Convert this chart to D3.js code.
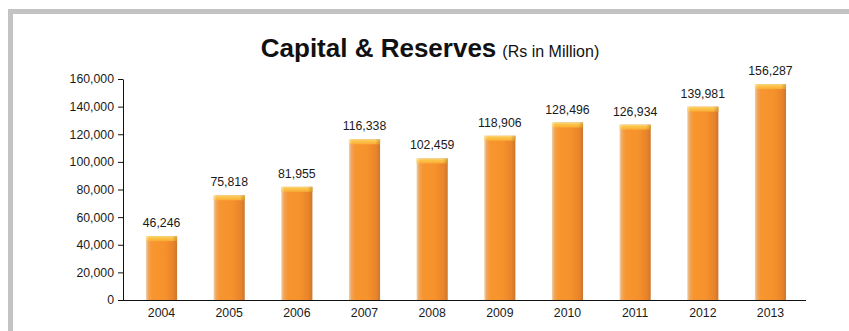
<!DOCTYPE html>
<html>
<head>
<meta charset="utf-8">
<script src="https://cdn.jsdelivr.net/npm/d3@7"></script>
<style>
  html, body { margin: 0; padding: 0; background: #fff; }
  svg { display: block; font-family: "Liberation Sans", Arial, Helvetica, sans-serif; }
</style>
</head>
<body>
<svg id="chart" width="849" height="331"></svg>
<script>
// Capital & Reserves, Rs in Million
const years = ["2004", "2005", "2006", "2007", "2008", "2009", "2010", "2011", "2012", "2013"];
const capitalReserves = [46246, 75818, 81955, 116338, 102459, 118906, 128496, 126934, 139981, 156287];
const yTicks = [0, 20000, 40000, 60000, 80000, 100000, 120000, 140000, 160000];

const svg = d3.select("#chart");
const fmt = d3.format(",");

// frame: grey band along the top and left
svg.append("rect").attr("x", 8).attr("y", 9).attr("width", 841).attr("height", 5).attr("fill", "#c3c3c3");
svg.append("rect").attr("x", 8).attr("y", 9).attr("width", 5).attr("height", 322).attr("fill", "#c3c3c3");

// title
const title = svg.append("text")
  .attr("x", 430).attr("y", 57)
  .attr("text-anchor", "middle")
  .attr("fill", "#111");
title.append("tspan").attr("font-size", 26).attr("font-weight", "bold").text("Capital & Reserves");
title.append("tspan").attr("font-size", 16).attr("dx", 6).text("(Rs in Million)");

// scales
const axisLeft = 123, axisRight = 806, yBase = 300, yTop = 79;
const x = d3.scaleBand()
  .domain(years)
  .range([127.7, 804.3])
  .paddingInner(0.54)
  .paddingOuter(0.27);
const y = d3.scaleLinear().domain([0, 160000]).range([yBase, yTop]);

// bar gradients
const defs = svg.append("defs");
const body = defs.append("linearGradient").attr("id", "barBody").attr("x1", 0).attr("x2", 1).attr("y1", 0).attr("y2", 0);
[[0, "#ecd2ad"], [0.08, "#f2a55a"], [0.2, "#f7952f"], [0.6, "#f6922c"], [0.88, "#e8832a"], [1, "#c9772f"]]
  .forEach(([o, c]) => body.append("stop").attr("offset", o).attr("stop-color", c));
const cap = defs.append("linearGradient").attr("id", "barCap").attr("x1", 0).attr("x2", 0).attr("y1", 0).attr("y2", 1);
[[0, "#f7d98a"], [0.35, "#fcc548"], [1, "#f9ac38"]]
  .forEach(([o, c]) => cap.append("stop").attr("offset", o).attr("stop-color", c));
const capSide = defs.append("linearGradient").attr("id", "barCapSide").attr("x1", 0).attr("x2", 1).attr("y1", 0).attr("y2", 0);
[[0, "rgba(255,255,255,0.45)"], [0.1, "rgba(255,255,255,0)"], [0.85, "rgba(0,0,0,0)"], [1, "rgba(120,60,0,0.25)"]]
  .forEach(([o, c]) => capSide.append("stop").attr("offset", o).attr("stop-color", c));

const data = years.map((yr, i) => ({ year: yr, value: capitalReserves[i] }));

const bars = svg.append("g").selectAll("g").data(data).join("g");
bars.append("rect")
  .attr("x", d => x(d.year))
  .attr("y", d => y(d.value))
  .attr("width", x.bandwidth())
  .attr("height", d => yBase - y(d.value))
  .attr("fill", "url(#barBody)");
bars.append("rect")
  .attr("x", d => x(d.year))
  .attr("y", d => y(d.value))
  .attr("width", x.bandwidth())
  .attr("height", 5)
  .attr("fill", "url(#barCap)");
bars.append("rect")
  .attr("x", d => x(d.year))
  .attr("y", d => y(d.value))
  .attr("width", x.bandwidth())
  .attr("height", 5)
  .attr("fill", "url(#barCapSide)");

// value labels
bars.append("text")
  .attr("x", d => x(d.year) + x.bandwidth() / 2)
  .attr("y", d => y(d.value) - 9)
  .attr("text-anchor", "middle")
  .attr("font-size", 12.3)
  .attr("fill", "#1a1a1a")
  .text(d => fmt(d.value));

// y axis
const yAxis = svg.append("g")
  .attr("transform", `translate(${axisLeft},0)`)
  .call(d3.axisLeft(y).tickValues(yTicks).tickFormat(fmt).tickSize(5).tickPadding(4).tickSizeOuter(0));
yAxis.select(".domain").attr("stroke", "#111");
yAxis.selectAll(".tick line").attr("stroke", "#111");
yAxis.selectAll(".tick text").attr("font-size", 12.3).attr("fill", "#1a1a1a")
  .attr("font-family", "'Liberation Sans', Arial, sans-serif");

// x axis
const xAxis = svg.append("g")
  .attr("transform", `translate(0,${yBase})`)
  .call(d3.axisBottom(x).tickSize(0).tickPadding(8));
xAxis.select(".domain").attr("d", `M${axisLeft},0.5H${axisRight}`).attr("stroke", "#111");
xAxis.selectAll(".tick text").attr("font-size", 12.3).attr("fill", "#1a1a1a")
  .attr("font-family", "'Liberation Sans', Arial, sans-serif");
</script>
</body>
</html>
